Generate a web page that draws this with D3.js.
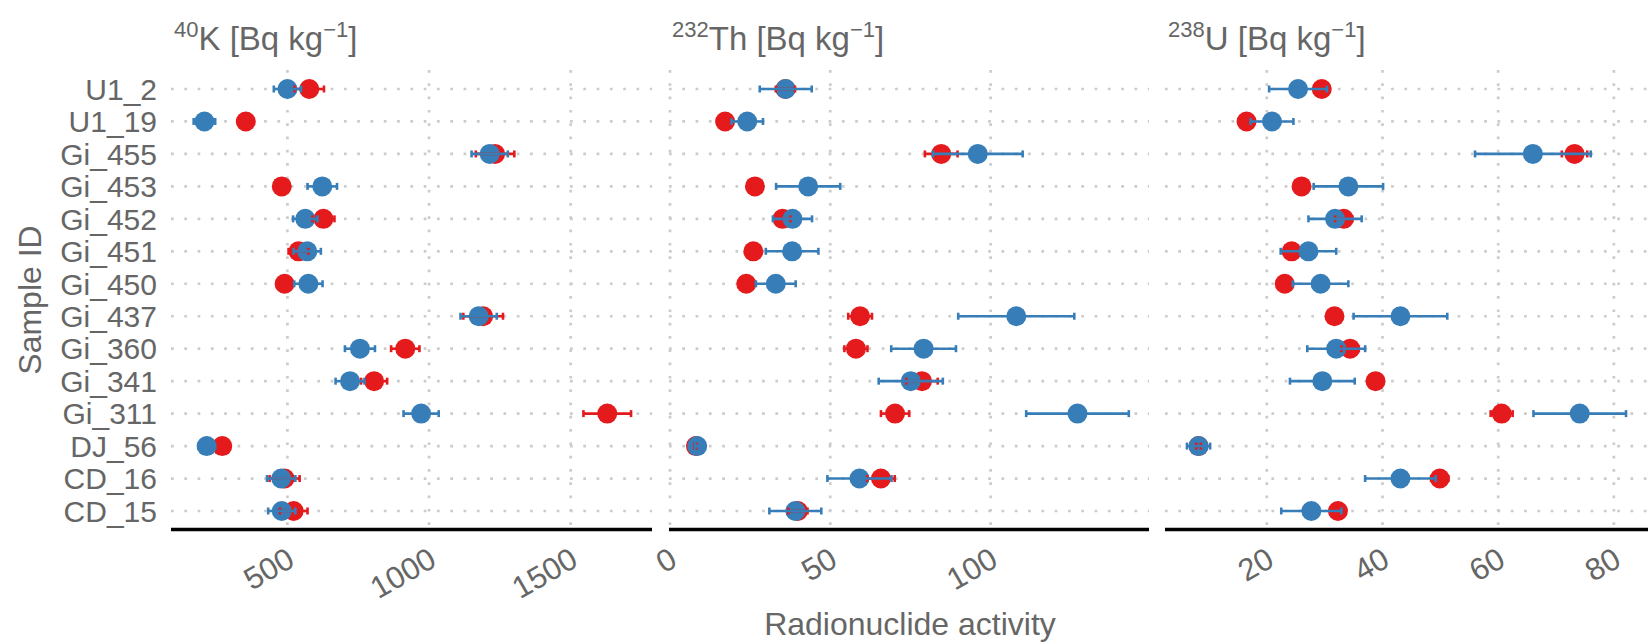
<html>
	<head>
		<title>Radionuclide activity by sample</title>
		<script src="https://d3js.org/d3.v7.min.js" charset="utf-8"></script>
		<style>
		body {
			margin: 0;
			background: white;
			font-family: "Liberation Sans", Arial, sans-serif;
			}
		text {
			fill: #666666;
			}
		</style>
	</head>
	<body>
		<script>
		//window size
			var width = 1648;
			var height = 643;

		//sample ids, top row first
		var samples = ["U1_2", "U1_19", "Gi_455", "Gi_453", "Gi_452", "Gi_451", "Gi_450",
			"Gi_437", "Gi_360", "Gi_341", "Gi_311", "DJ_56", "CD_16", "CD_15"];

		//40K values (red and blue series) with their errors
		var kRed     = [577, 353, 1233, 480, 627, 539, 490, 1191, 916, 806, 1629, 270, 490, 522];
		var kRedErr  = [52, 22, 68, 22, 39, 35, 24, 70, 50, 46, 84, 20, 53, 49];
		var kBlue    = [500, 207, 1214, 623, 563, 570, 574, 1175, 756, 721, 972, 215, 478, 480];
		var kBlueErr = [48, 38, 64, 52, 43, 48, 50, 64, 53, 51, 62, 30, 50, 48];

		//232Th
		var thRed     = [36.0, 17.2, 84.6, 26.5, 35.1, 26.0, 23.8, 59.3, 58.0, 78.6, 70.2, 8.1, 65.8, 39.9];
		var thRedErr  = [3.0, 1.5, 5.1, 1.5, 2.5, 1.5, 1.5, 3.7, 3.6, 4.9, 4.4, 0.4, 4.3, 3.0];
		var thBlue    = [36.1, 24.1, 96.0, 43.1, 38.2, 38.1, 33.0, 108.0, 79.1, 75.1, 127.1, 8.5, 59.1, 39.1];
		var thBlueErr = [8.1, 4.9, 14.0, 10.0, 6.1, 8.2, 6.2, 18.1, 10.1, 10.0, 16.0, 0.6, 10.0, 8.1];

		//238U
		var uRed     = [29.5, 16.5, 73.2, 26.0, 33.3, 24.3, 23.1, 31.7, 34.4, 38.8, 60.6, 8.2, 49.9, 32.3];
		var uRedErr  = [1.2, 0.8, 2.2, 1.0, 1.5, 1.0, 1.0, 1.2, 1.5, 1.3, 1.9, 0.4, 1.5, 1.2];
		var uBlue    = [25.4, 20.9, 66.0, 34.1, 31.8, 27.2, 29.3, 43.1, 32.0, 29.6, 74.1, 8.2, 43.1, 27.7];
		var uBlueErr = [5.0, 3.7, 10.0, 6.0, 4.6, 4.8, 4.8, 8.1, 5.0, 5.6, 8.0, 2.0, 6.1, 5.2];

		//tick labels per panel
		var kTicks = [500, 1000, 1500];
		var thTicks = [0, 50, 100];
		var uTicks = [20, 40, 60, 80];

		//series colours
		var redColor = "#E41A1C";
		var blueColor = "#377EB8";

		//panel setup: data, axis domain, pixel range, title
		var panels = [
			{ sup: "40", name: "K", red: kRed, redErr: kRedErr, blue: kBlue, blueErr: kBlueErr,
			  ticks: kTicks, domain: [89, 1787], range: [171, 652] },
			{ sup: "232", name: "Th", red: thRed, redErr: thRedErr, blue: thBlue, blueErr: thBlueErr,
			  ticks: thTicks, domain: [-0.3, 149.4], range: [669, 1149] },
			{ sup: "238", name: "U", red: uRed, redErr: uRedErr, blue: uBlue, blueErr: uBlueErr,
			  ticks: uTicks, domain: [2.4, 85.9], range: [1165, 1648] }
		];

		var panelTop = 70;
		var panelBottom = 530;

		//rows
		var y = d3.scalePoint()
			.domain(samples)
			.range([89, 511]);

		var svg = d3.select("body")
			.append("svg")
			.attr("width", width)
			.attr("height", height);

		//y labels (shared)
		svg.append("g")
			.selectAll("text")
			.data(samples)
			.enter()
			.append("text")
			.attr("x", 157)
			.attr("y", function(d) { return y(d); })
			.attr("dy", "0.36em")
			.attr("text-anchor", "end")
			.style("font-size", "30px")
			.text(function(d) { return d; });

		//axis titles
		svg.append("text")
			.attr("x", 910)
			.attr("y", 635)
			.attr("text-anchor", "middle")
			.style("font-size", "32px")
			.text("Radionuclide activity");

		svg.append("text")
			.attr("transform", "translate(41,300) rotate(-90)")
			.attr("text-anchor", "middle")
			.style("font-size", "32px")
			.text("Sample ID");

		panels.forEach(function(p) {
			var x = d3.scaleLinear().domain(p.domain).range(p.range);
			var g = svg.append("g");

			//horizontal dotted grid
			g.selectAll(".hgrid")
				.data(samples)
				.enter()
				.append("line")
				.attr("x1", p.range[0])
				.attr("x2", p.range[1])
				.attr("y1", function(d) { return y(d); })
				.attr("y2", function(d) { return y(d); })
				.attr("stroke", "#cccccc")
				.attr("stroke-width", 2.7)
				.attr("stroke-dasharray", "2.7,10.6");

			//vertical dotted grid
			g.selectAll(".vgrid")
				.data(p.ticks)
				.enter()
				.append("line")
				.attr("x1", function(d) { return x(d); })
				.attr("x2", function(d) { return x(d); })
				.attr("y1", panelTop)
				.attr("y2", panelBottom)
				.attr("stroke", "#cccccc")
				.attr("stroke-width", 2.7)
				.attr("stroke-dasharray", "2.7,10.6");

			//bottom axis line
			g.append("line")
				.attr("x1", p.range[0])
				.attr("x2", p.range[1])
				.attr("y1", 529.5)
				.attr("y2", 529.5)
				.attr("stroke", "black")
				.attr("stroke-width", 3.5);

			//tick labels, rotated
			g.selectAll(".tick")
				.data(p.ticks)
				.enter()
				.append("text")
				.attr("transform", function(d) { return "translate(" + (x(d) - 2) + ",546) rotate(-30)"; })
				.attr("dy", "0.71em")
				.attr("text-anchor", "end")
				.style("font-size", "31px")
				.text(function(d) { return d; });

			//panel title with superscripts
			var t = g.append("text")
				.attr("x", p.range[0] + 3)
				.attr("y", 50)
				.style("font-size", "33px");
			t.append("tspan").attr("dy", -13).style("font-size", "22px").text(p.sup);
			t.append("tspan").attr("dy", 13).text(p.name + " [Bq kg");
			t.append("tspan").attr("dy", -13).style("font-size", "22px").text("\u22121");
			t.append("tspan").attr("dy", 13).text("]");

			//points: red first, blue on top
			[["red", redColor], ["blue", blueColor]].forEach(function(s) {
				g.selectAll(".pt-" + s[0])
					.data(samples)
					.enter()
					.append("circle")
					.attr("cx", function(d, i) { return x(p[s[0]][i]); })
					.attr("cy", function(d) { return y(d); })
					.attr("r", 10)
					.attr("fill", s[1]);
			});

			//error bars drawn over the points
			[["red", redColor], ["blue", blueColor]].forEach(function(s) {
				var vals = p[s[0]];
				var errs = p[s[0] + "Err"];
				var eb = g.selectAll(".eb-" + s[0])
					.data(samples)
					.enter()
					.append("g")
					.attr("stroke", s[1])
					.attr("stroke-width", 2.6);
				eb.append("line")
					.attr("x1", function(d, i) { return x(vals[i] - errs[i]); })
					.attr("x2", function(d, i) { return x(vals[i] + errs[i]); })
					.attr("y1", function(d) { return y(d); })
					.attr("y2", function(d) { return y(d); });
				eb.append("line")
					.attr("x1", function(d, i) { return x(vals[i] - errs[i]); })
					.attr("x2", function(d, i) { return x(vals[i] - errs[i]); })
					.attr("y1", function(d) { return y(d) - 3.5; })
					.attr("y2", function(d) { return y(d) + 3.5; });
				eb.append("line")
					.attr("x1", function(d, i) { return x(vals[i] + errs[i]); })
					.attr("x2", function(d, i) { return x(vals[i] + errs[i]); })
					.attr("y1", function(d) { return y(d) - 3.5; })
					.attr("y2", function(d) { return y(d) + 3.5; });
			});
		});
		</script>
	</body>
</html>
